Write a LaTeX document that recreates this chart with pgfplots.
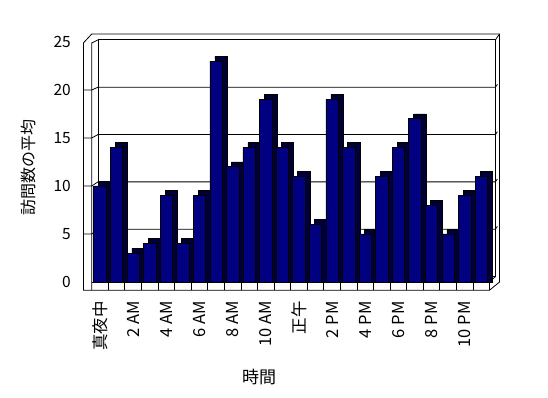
\documentclass[border=0pt]{standalone}
\usepackage{fontspec}
\setmainfont{Noto Sans CJK JP}
\usepackage{pgfplots}
\usepackage{pgfplotstable}
\pgfplotsset{compat=1.18}
\definecolor{barfront}{RGB}{0,0,128}
\definecolor{barside}{RGB}{0,0,52}
\pgfplotstableread{
x y
0 10
1 14
2 3
3 4
4 9
5 4
6 9
7 23
8 12
9 14
10 19
11 14
12 11
13 6
14 19
15 14
16 5
17 11
18 14
19 17
20 8
21 5
22 9
23 11
}\visits
\begin{document}
\begin{tikzpicture}[x=1pt,y=1pt]
\begin{axis}[
  scale only axis, width=418.6pt, height=256.32pt,
  xmin=-1, xmax=24.25, ymin=-0.85, ymax=25.85,
  clip=false,
  axis line style={draw=none},
  tick style={draw=none},
  xtick={0,2,...,22},
  xticklabels={真夜中,2 AM,4 AM,6 AM,8 AM,10 AM,正午,2 PM,4 PM,6 PM,8 PM,10 PM},
  xticklabel style={yshift=-11pt, rotate=90, anchor=east, inner sep=0pt, font=\fontsize{16.5}{16.5}\selectfont},
  ytick={0,5,...,25},
  yticklabels={0,5,10,15,20,25},
  yticklabel style={anchor=east, inner sep=0pt, xshift=-12.4pt, font=\fontsize{15.5}{15.5}\selectfont},
]
\coordinate (SW) at (rel axis cs:0,0);
% back wall
\draw[line width=0.8pt] (-0.12,0.5625) -- (-0.12,25.22) -- (23.85,25.22) -- (23.85,0.5625);
\draw[line width=0.8pt] (-0.12,5.495) -- (23.85,5.495) -- (23.97,5.795);
\draw[line width=0.8pt] (-0.12,10.43) -- (23.85,10.43) -- (23.97,10.73);
\draw[line width=0.8pt] (-0.12,15.36) -- (23.85,15.36) -- (23.97,15.66);
\draw[line width=0.8pt] (-0.12,20.29) -- (23.85,20.29) -- (23.97,20.59);
% left wall ticks
\draw[line width=0.8pt] (-1,5) -- (-0.5,5) -- (-0.12,5.495);
\draw[line width=0.8pt] (-1,10) -- (-0.5,10) -- (-0.12,10.43);
\draw[line width=0.8pt] (-1,15) -- (-0.5,15) -- (-0.12,15.36);
\draw[line width=0.8pt] (-1,20) -- (-0.5,20) -- (-0.12,20.29);
% outer frame
\draw[line width=0.8pt] (-1,-0.85) -- (-1,24.9) -- (-0.5,25.83) -- (24.1,25.83) -- (24.1,0) -- (23.5,-0.85) -- cycle;
\draw[line width=0.8pt] (-0.5,-0.85) -- (-0.5,24.9) -- (-0.12,25.22);
\draw[line width=0.8pt] (23.85,25.22) -- (24.1,25.83);
% floor
\draw[line width=0.8pt] (-0.5,0) -- (23.5,0) -- (23.5,-0.85);
\draw[line width=0.8pt] (23.5,0) -- (23.85,0.5625);
\draw[line width=0.8pt] (-0.12,0.5625) -- (23.85,0.5625);
\pgfplotsinvokeforeach{1,...,23}{
  \draw[line width=0.8pt] (#1-0.5,-0.85) -- (#1-0.5,0);
}
% bars: depth faces then front faces
\addplot[ybar, bar width=0.75, bar shift=0pt, fill=barside, draw=black, line width=0.6pt,
  x filter/.expression={x+0.3}, y filter/.expression={y+0.52}] table[x=x,y=y] {\visits};
\addplot[ybar, bar width=0.75, bar shift=0pt, fill=barfront, draw=black, line width=0.6pt] table[x=x,y=y] {\visits};
\end{axis}
\begin{scope}[shift={(SW)}, shift={(-83.42,-107.84)}]
\node[font=\fontsize{16}{16}\selectfont, rotate=90] at (28.5,230.5) {訪問数の平均};
\node[font=\fontsize{17}{17}\selectfont] at (259,21) {時間};
\end{scope}
\pgfresetboundingbox
\begin{scope}[shift={(SW)}, shift={(-83.42,-107.84)}]
\path[use as bounding box] (0,0) rectangle (548,398);
\end{scope}
\end{tikzpicture}
\end{document}
